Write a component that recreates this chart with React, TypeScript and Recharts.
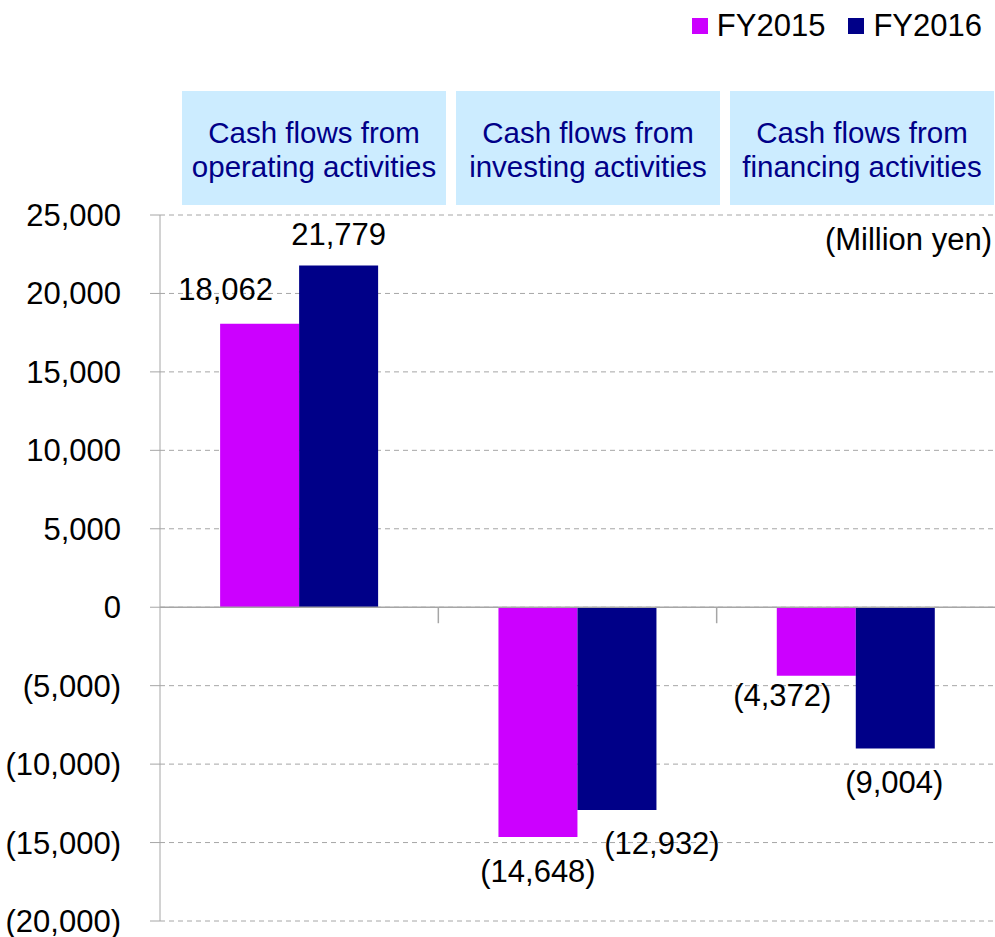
import { Bar, BarChart, CartesianGrid, LabelList, ReferenceLine, XAxis, YAxis } from "recharts";

const categories = ["Operating", "Investing", "Financing"];
const headerLines = [
  ["Cash flows from", "operating activities"],
  ["Cash flows from", "investing activities"],
  ["Cash flows from", "financing activities"],
];
const fy2015 = [18062, -14648, -4372];
const fy2016 = [21779, -12932, -9004];
const yTicks = [-20000, -15000, -10000, -5000, 0, 5000, 10000, 15000, 20000, 25000];

const series = [
  { key: "fy2015", name: "FY2015", color: "#CC00FF", values: fy2015 },
  { key: "fy2016", name: "FY2016", color: "#000088", values: fy2016 },
];

// label nudges (px) from the bar's outer edge, matching the original placement
const labelShift: Record<string, [number, number][]> = {
  fy2015: [[-34, -34], [0, 34], [-34, 20]],
  fy2016: [[0, -31], [45, 33], [-1, 34]],
};

const data = categories.map((name, i) => ({
  name,
  fy2015: fy2015[i],
  fy2016: fy2016[i],
}));

const FONT = "'Liberation Sans', Arial, sans-serif";
const GRID = "#A6A6A6";

function fmt(v: number) {
  const s = Math.abs(v).toLocaleString("en-US");
  return v < 0 ? `(${s})` : s;
}

function HeaderTick(props: any) {
  const index = props.index ?? props.payload?.index ?? 0;
  const left = 182 + index * 274;
  const lines = headerLines[index] || [];
  return (
    <g>
      <rect x={left} y={91} width={264} height={114} fill="#CCECFF" />
      {lines.map((line, k) => (
        <text
          key={k}
          x={left + 132}
          y={132 + k * 34}
          textAnchor="middle"
          dominantBaseline="central"
          fontSize={29.5}
          fontFamily={FONT}
          fill="#000088"
        >
          {line}
        </text>
      ))}
    </g>
  );
}

function makeLabel(key: string) {
  return (props: any) => {
    const { x, y, width, height, value, index } = props;
    const top = Math.min(y, y + height);
    const bottom = Math.max(y, y + height);
    const [dx, dy] = labelShift[key][index];
    const edge = value >= 0 ? top : bottom;
    return (
      <text
        x={x + width / 2 + dx}
        y={edge + dy}
        textAnchor="middle"
        dominantBaseline="central"
        fontSize={31}
        fontFamily={FONT}
        fill="#000"
      >
        {fmt(value)}
      </text>
    );
  };
}

export default function App() {
  return (
    <div style={{ position: "absolute", left: 0, top: 0, width: 995, height: 937, fontFamily: FONT }}>
      <div style={{ position: "absolute", right: 13, top: 8, display: "flex", alignItems: "center", fontSize: 31 }}>
        {series.map((s, i) => (
          <span key={s.key} style={{ display: "flex", alignItems: "center", marginLeft: i ? 23 : 0 }}>
            <span style={{ width: 16, height: 16, background: s.color, marginRight: 9, display: "inline-block" }} />
            {s.name}
          </span>
        ))}
      </div>
      <div style={{ position: "absolute", right: 3, top: 222, fontSize: 31 }}>(Million yen)</div>
      <BarChart
        width={995}
        height={937}
        data={data}
        margin={{ top: 0, right: 0, bottom: 16, left: 0 }}
        barCategoryGap="21.6%"
        barGap={0}
      >
        <CartesianGrid vertical={false} stroke={GRID} strokeDasharray="5 4" />
        <XAxis
          dataKey="name"
          orientation="top"
          height={215}
          axisLine={false}
          tickLine={false}
          tick={<HeaderTick />}
          interval={0}
        />
        <YAxis
          width={160}
          domain={[-20000, 25000]}
          ticks={yTicks}
          tickFormatter={fmt}
          axisLine={{ stroke: GRID }}
          tickLine={{ stroke: GRID }}
          tickSize={10}
          tickMargin={29}
          tick={{ fontSize: 31, fill: "#000", fontFamily: FONT }}
          interval={0}
        />
        <ReferenceLine y={0} stroke={GRID} strokeWidth={1.5} />
        {categories.slice(0, 2).map((c) => (
          <ReferenceLine
            key={c}
            position="end"
            segment={[{ x: c, y: 0 }, { x: c, y: -1020 }]}
            stroke={GRID}
            strokeWidth={1.5}
          />
        ))}
        {series.map((s) => (
          <Bar key={s.key} dataKey={s.key} name={s.name} fill={s.color} isAnimationActive={false}>
            <LabelList dataKey={s.key} content={makeLabel(s.key)} />
          </Bar>
        ))}
      </BarChart>
    </div>
  );
}
